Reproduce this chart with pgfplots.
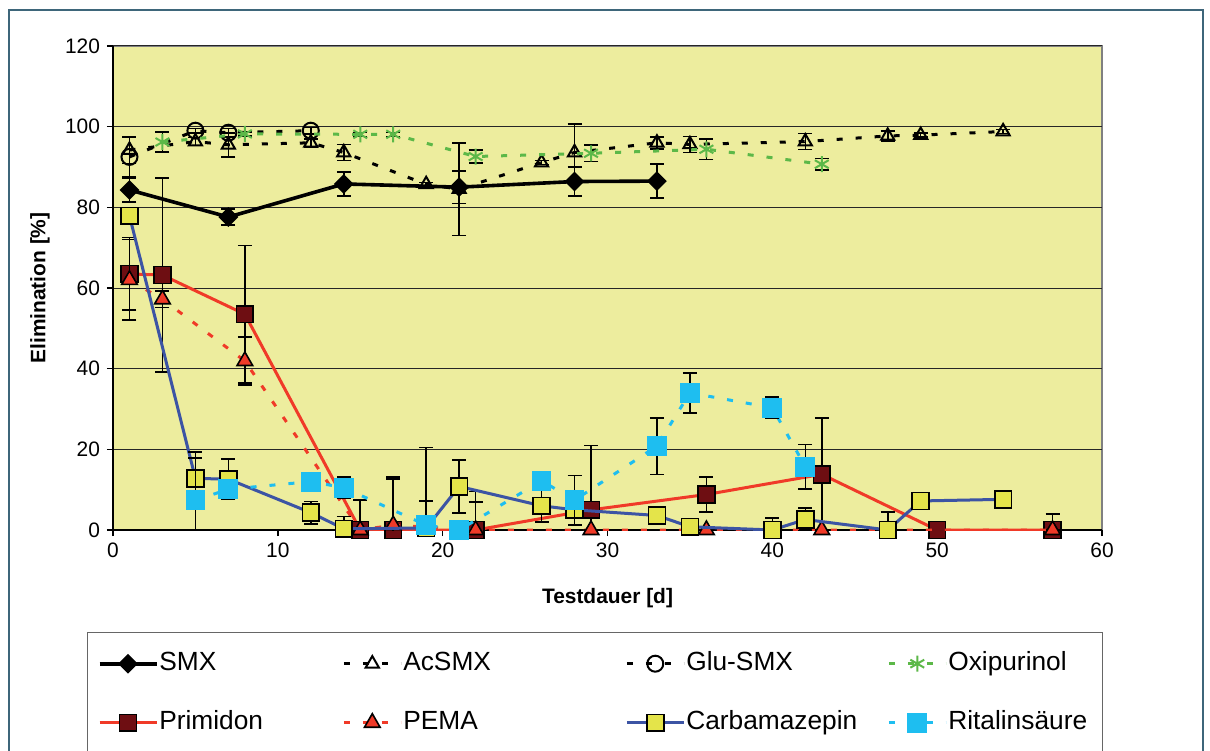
\documentclass[border=0pt]{standalone}
\usepackage{pgfplots}
\pgfplotsset{compat=1.18}
\usepackage{fontspec}
\setmainfont{Liberation Sans}

\definecolor{plotbg}{RGB}{237,237,158}
\definecolor{frameblue}{RGB}{62,102,122}
\definecolor{oxigreen}{RGB}{92,184,72}
\definecolor{primred}{RGB}{240,58,40}
\definecolor{primdark}{RGB}{110,14,18}
\definecolor{carbblue}{RGB}{60,84,164}
\definecolor{carbyellow}{RGB}{228,228,74}
\definecolor{ritcyan}{RGB}{30,190,240}

\tikzset{xdash/.style={dash pattern=on 3bp off 6.5bp}}

\begin{document}
\begin{tikzpicture}
\useasboundingbox (-56.5bp,-110.5bp) rectangle (548.5bp,265bp);
\draw[frameblue, line width=1.3bp] (-52bp,-130bp) -- (-52bp,260bp) -- (545bp,260bp) -- (545bp,-130bp);
\begin{axis}[
  at={(0,0)}, anchor=south west,
  scale only axis, width=494.5bp, height=242bp,
  xmin=0, xmax=60, ymin=0, ymax=120,
  xtick={0,10,...,60}, ytick={0,20,...,120},
  axis lines*=left,
  axis line style={black, line width=0.7bp},
  axis background/.style={fill=plotbg, draw=gray, line width=0.7bp},
  tick align=outside, major tick length=3bp,
  tick style={black, line width=0.7bp},
  ymajorgrids, grid style={black!85, line width=0.5bp},
  clip mode=individual,
  /pgf/number format/assume math mode=true,
  tick label style={font=\fontsize{10.5}{12}\selectfont},
  xlabel={\textbf{Testdauer [d]}},
  ylabel={\textbf{Elimination [\%]}},
  every axis x label/.style={at={([yshift=-34bp]axis description cs:0.5,0)}, anchor=center, font=\fontsize{10.5}{12}\selectfont},
  every axis y label/.style={at={([xshift=-36.5bp]axis description cs:0,0.5)}, rotate=90, anchor=center, font=\fontsize{10.5}{12}\selectfont},
  error bars/y dir=both, error bars/y explicit,
  error bars/error bar style={black, solid, line width=0.8bp},
  error bars/error mark options={rotate=90, mark size=3.5bp, black, solid, line width=0.8bp},
  legend columns=4,
  legend cell align=left,
  legend image code/.code={\draw[mark repeat=2, mark phase=2] plot coordinates {(0bp,0bp) (14.25bp,0bp) (28.5bp,0bp)};},
  legend style={
    at={([xshift=-13bp,yshift=-51bp]axis description cs:0,0)}, anchor=north west,
    draw=black!60, line width=0.7bp, fill=white,
    inner xsep=5bp, inner ysep=9.5bp,
    font=\fontsize{13.2}{15}\selectfont,
    nodes={inner sep=0pt, text height=9.5bp, text depth=2.5bp},
    column sep=0pt, row sep=17.5bp,
    /tikz/every odd column/.style={column sep=0.5bp},
    /tikz/column 2/.style={nodes={text width=91.5bp}},
    /tikz/column 4/.style={nodes={text width=111bp}},
    /tikz/column 6/.style={nodes={text width=100.5bp}},
    /tikz/column 8/.style={nodes={text width=72bp}},
  },
]

% SMX
\addplot[black, line width=1.8bp, mark=square*, mark size=2.6bp,
  mark options={rotate=45, solid, fill=black}]
coordinates {
 (1,84.3) +- (0,3.0) (7,77.6) +- (0,2.0) (14,85.8) +- (0,3.0)
 (21,85.0) +- (0,4.0) (28,86.4) +- (0,3.6) (33,86.5) +- (0,4.2)
};
\addlegendentry{SMX}

% AcSMX
\addplot[black, xdash, line width=1.5bp, mark=triangle, mark size=3.8bp,
  mark options={solid, line width=1bp}]
coordinates {
 (1,94.2) +- (0,3.3) (5,96.3) +- (0,1.0) (7,95.5) +- (0,3.0) (12,96.0) +- (0,1.0)
 (14,93.6) +- (0,2.0) (19,85.7) +- (0,0.5) (21,84.5) +- (0,11.5) (26,91.1) +- (0,0.5)
 (28,93.6) +- (0,7.0) (33,96.0) +- (0,1.5) (35,95.6) +- (0,2.0) (42,96.3) +- (0,2.0)
 (47,97.7) +- (0,1.2) (49,97.9) +- (0,0.5) (54,98.8) +- (0,0.5)
};
\addlegendentry{AcSMX}

% Glu-SMX
\addplot[black, xdash, line width=1.5bp, mark=o, mark size=4bp,
  mark options={solid, line width=1bp}]
coordinates {
 (1,92.5) +- (0,5.0) (5,99.0) +- (0,0.5) (7,98.5) +- (0,1.0) (12,99.0) +- (0,0.8)
};
\addlegendentry{Glu-SMX}

% Oxipurinol
\addplot[oxigreen, xdash, line width=1.5bp, mark=asterisk, mark size=4bp,
  mark options={solid, line width=1bp}]
coordinates {
 (3,96.2) +- (0,2.5) (8,98.2) +- (0,0.5) (15,98.1) +- (0,0.5) (17,98.1) +- (0,0.5)
 (22,92.6) +- (0,1.6) (29,93.4) +- (0,2.0) (36,94.4) +- (0,2.5) (43,90.7) +- (0,1.4)
};
\addlegendentry{Oxipurinol}

% Primidon
\addplot[primred, line width=1.5bp, mark=square*, mark size=4.2bp,
  mark options={solid, fill=primdark, draw=black, line width=0.8bp}]
coordinates {
 (1,63.5) +- (0,9.0) (3,63.2) +- (0,24.0) (8,53.5) +- (0,17.0) (15,0) +- (0,7.4)
 (17,0) +- (0,13.2) (22,0) +- (0,9.5) (29,5.0) +- (0,16.0) (36,8.8) +- (0,4.4)
 (43,13.8) +- (0,14.0) (50,0) +- (0,0) (57,0) +- (0,4.0)
};
\addlegendentry{Primidon}

% PEMA
\addplot[primred, xdash, line width=1.5bp, mark=triangle*, mark size=4.5bp,
  mark options={solid, fill=primred, draw=black, line width=0.8bp}]
coordinates {
 (1,62.0) +- (0,10.0) (3,57.2) +- (0,2.0) (8,41.9) +- (0,6.0) (15,0) +- (0,0)
 (17,1.2) +- (0,11.5) (22,0) +- (0,7.0) (29,0) +- (0,0) (36,0) +- (0,0)
 (43,0) +- (0,0) (57,0) +- (0,0)
};
\addlegendentry{PEMA}

% Carbamazepin
\addplot[carbblue, line width=1.5bp, mark=square*, mark size=4.2bp,
  mark options={solid, fill=carbyellow, draw=black, line width=0.8bp}]
coordinates {
 (1,77.9) +- (0,0) (5,12.8) +- (0,6.6) (7,12.6) +- (0,5.0) (12,4.3) +- (0,2.8)
 (14,0.3) +- (0,3.0) (19,0.5) +- (0,20.0) (21,10.8) +- (0,6.6) (26,6.0) +- (0,4.0)
 (28,5.0) +- (0,0) (33,3.6) +- (0,0) (35,0.8) +- (0,0) (40,0) +- (0,3.0)
 (42,2.6) +- (0,2.8) (47,0) +- (0,4.5) (49,7.2) +- (0,0) (54,7.6) +- (0,0)
};
\addlegendentry{Carbamazepin}

% Ritalinsaeure
\addplot[ritcyan, xdash, line width=1.5bp, mark=square*, mark size=4.2bp,
  mark options={solid, fill=ritcyan, draw=ritcyan}]
coordinates {
 (5,7.4) +- (0,10.4) (7,10.1) +- (0,0) (12,12.0) +- (0,0) (14,10.5) +- (0,2.7)
 (19,1.2) +- (0,6.0) (21,0) +- (0,0) (26,12.2) +- (0,0) (28,7.4) +- (0,6.1)
 (33,20.8) +- (0,7.0) (35,34.0) +- (0,5.0) (40,30.3) +- (0,2.7) (42,15.7) +- (0,5.5)
};
\addlegendentry{Ritalins\"aure}

\end{axis}
\end{tikzpicture}
\end{document}
